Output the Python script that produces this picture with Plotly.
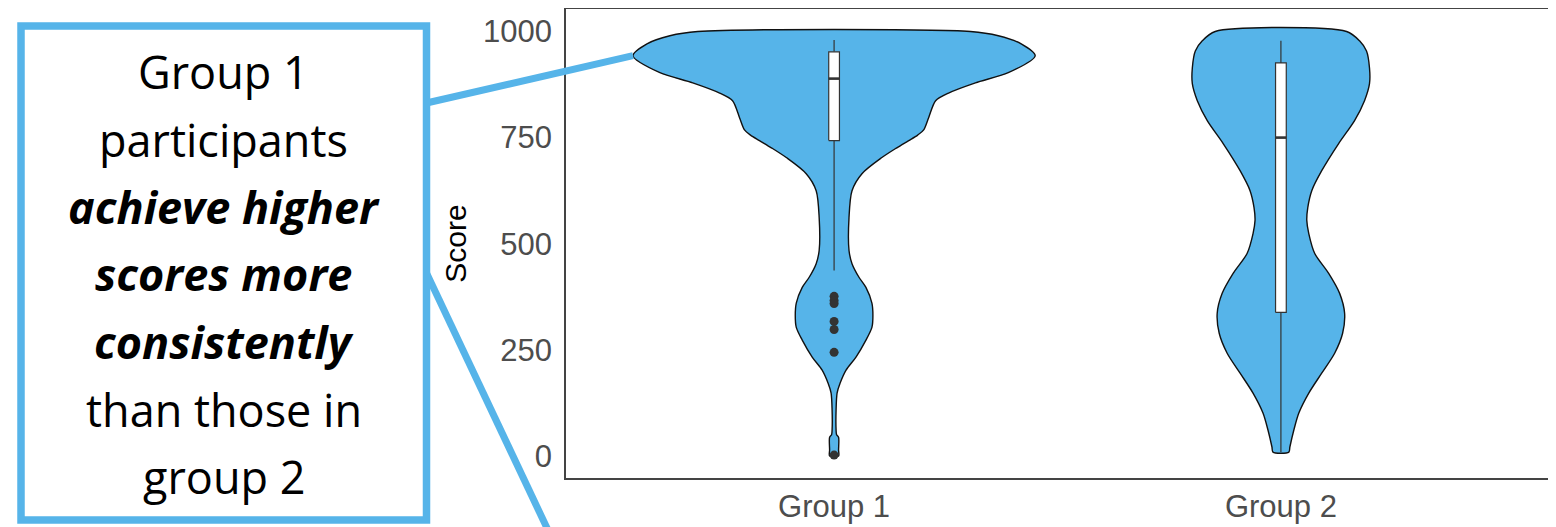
import plotly.graph_objects as go

# ---------------- data ----------------
groups = ["Group 1", "Group 2"]
positions = [1, 2]

# violin density profiles (score level -> relative density)
g1_scores = [0, 14, 44, 50, 61, 108, 148, 171, 202, 233, 273, 303, 331, 360, 397, 421,
             453, 484, 562, 625, 665, 703, 726, 743, 756, 768, 797, 837, 855, 879, 903, 943, 971, 990, 1000]
g1_density = [4.5, 4.5, 4.5, 2.5, 2, 2, 3, 6, 12, 22, 32, 38, 39, 38, 32, 25,
              18, 15, 15, 18, 28, 48, 63, 75, 84, 90, 95, 102, 115, 142, 175, 202, 188, 165, 137]

g2_scores = [9, 21, 61, 101, 148, 195, 242, 289, 336, 383, 430, 477, 524, 555, 585, 625,
             672, 736, 790, 837, 877, 914, 954, 978, 1000]
g2_density = [8, 9, 13, 18, 28, 41, 54, 62, 64, 59, 48, 34, 28, 26, 27, 31,
              41, 58, 74, 84, 89, 89, 86, 79, 66]

# box-plot statistics
q1 = [743, 338]
median = [889, 750]
q3 = [952, 926]
whisker_low = [437, 9]
whisker_high = [980, 978]

g1_outliers = [376, 366, 359, 317, 298, 244, 2]

y_ticks = [0, 250, 500, 750, 1000]

note_lines = ["Group 1", "participants", "<b><i>achieve higher</i></b>",
              "<b><i>scores more</i></b>", "<b><i>consistently</i></b>",
              "than those in", "group 2"]

# ---------------- layout constants (page pixels) ----------------
OFF = 8                      # page body margin
W, H = 1556 - OFF, 527 - OFF
PL, PR, PT, PB = 566, 1549, 9, 478
XR = [0.4, 2.6]
YR = [-52, 1053]
VIOLIN_HALF = 0.45
BOX_HALF = 0.012
FILL = "#56B4E9"
CALLOUT = "#56B4E9"


def pxx(x):
    return (x - PL) / (PR - PL)


def pxy(y):
    return (PB - y) / (PB - PT)


def dx2p(x):
    return (x - XR[0]) / (XR[1] - XR[0])


def dy2p(y):
    return (y - YR[0]) / (YR[1] - YR[0])


fig = go.Figure()

dmax = max(max(g1_density), max(g2_density))
for pos, sc, de in [(positions[0], g1_scores, g1_density), (positions[1], g2_scores, g2_density)]:
    hw = [VIOLIN_HALF * d / dmax for d in de]
    xs = [pos - h for h in hw] + [pos + h for h in reversed(hw)]
    ys = list(sc) + list(reversed(sc))
    xs.append(xs[0])
    ys.append(ys[0])
    fig.add_trace(go.Scatter(x=xs, y=ys, mode="lines", fill="toself", fillcolor=FILL,
                             line=dict(color="#111111", width=1.4, shape="spline", smoothing=0.8),
                             hoverinfo="skip", showlegend=False))

for i, pos in enumerate(positions):
    # whiskers
    fig.add_trace(go.Scatter(x=[pos, pos, None, pos, pos],
                             y=[whisker_low[i], q1[i], None, q3[i], whisker_high[i]],
                             mode="lines", line=dict(color="#333333", width=1.2),
                             hoverinfo="skip", showlegend=False))
    # box
    fig.add_trace(go.Scatter(x=[pos - BOX_HALF, pos + BOX_HALF, pos + BOX_HALF, pos - BOX_HALF, pos - BOX_HALF],
                             y=[q1[i], q1[i], q3[i], q3[i], q1[i]],
                             mode="lines", fill="toself", fillcolor="white",
                             line=dict(color="#333333", width=1.2),
                             hoverinfo="skip", showlegend=False))
    # median
    fig.add_trace(go.Scatter(x=[pos - BOX_HALF, pos + BOX_HALF], y=[median[i], median[i]],
                             mode="lines", line=dict(color="#333333", width=2.6),
                             hoverinfo="skip", showlegend=False))

fig.add_trace(go.Scatter(x=[positions[0]] * len(g1_outliers), y=g1_outliers, mode="markers",
                         marker=dict(color="#333333", size=9), hoverinfo="skip", showlegend=False))

# ---------------- callout ----------------
imax = g1_density.index(max(g1_density))
tip_x = dx2p(positions[0] - VIOLIN_HALF * g1_density[imax] / dmax)
tip_y = dy2p(g1_scores[imax])

shapes = [
    dict(type="line", xref="paper", yref="paper", x0=pxx(426.5), y0=pxy(103), x1=tip_x, y1=tip_y,
         line=dict(color=CALLOUT, width=7)),
    dict(type="line", xref="paper", yref="paper", x0=pxx(426.5), y0=pxy(273), x1=pxx(426.5 + 287 * 0.4724),
         y1=pxy(560), line=dict(color=CALLOUT, width=7)),
    dict(type="rect", xref="paper", yref="paper", x0=pxx(21), x1=pxx(426.5), y0=pxy(520), y1=pxy(26),
         line=dict(color=CALLOUT, width=7.5), fillcolor="white"),
]

annotations = []
line_centers = [71.5, 139, 206.5, 274, 341.5, 409, 476.5]
for txt, yc in zip(note_lines, line_centers):
    annotations.append(dict(text=txt, xref="paper", yref="paper", x=pxx(223.75), y=pxy(yc),
                            xanchor="center", yanchor="middle", showarrow=False,
                            font=dict(family="Open Sans", size=45, color="black")))

fig.update_layout(
    width=W, height=H,
    margin=dict(l=PL - OFF, r=(OFF + W) - PR, t=PT - OFF, b=(OFF + H) - PB, pad=0),
    plot_bgcolor="white", paper_bgcolor="white",
    showlegend=False,
    shapes=shapes,
    annotations=annotations,
    xaxis=dict(range=XR, tickvals=positions, ticktext=groups, showgrid=False, zeroline=False,
               showline=True, mirror=True, linecolor="#444444", linewidth=1.5, ticks="",
               ticklabelstandoff=0, automargin=False,
               tickfont=dict(family="Liberation Sans", size=31, color="#4D4D4D")),
    yaxis=dict(range=YR, tickvals=y_ticks, ticktext=[str(v) for v in y_ticks], showgrid=False,
               zeroline=False, showline=True, mirror=True, linecolor="#444444", linewidth=1.5,
               ticks="", ticklabelstandoff=6, automargin=False,
               tickfont=dict(family="Liberation Sans", size=31, color="#4D4D4D"),
               title=dict(text="Score", standoff=8,
                          font=dict(family="Liberation Sans", size=30, color="black"))),
)

fig.write_html("out.html")
